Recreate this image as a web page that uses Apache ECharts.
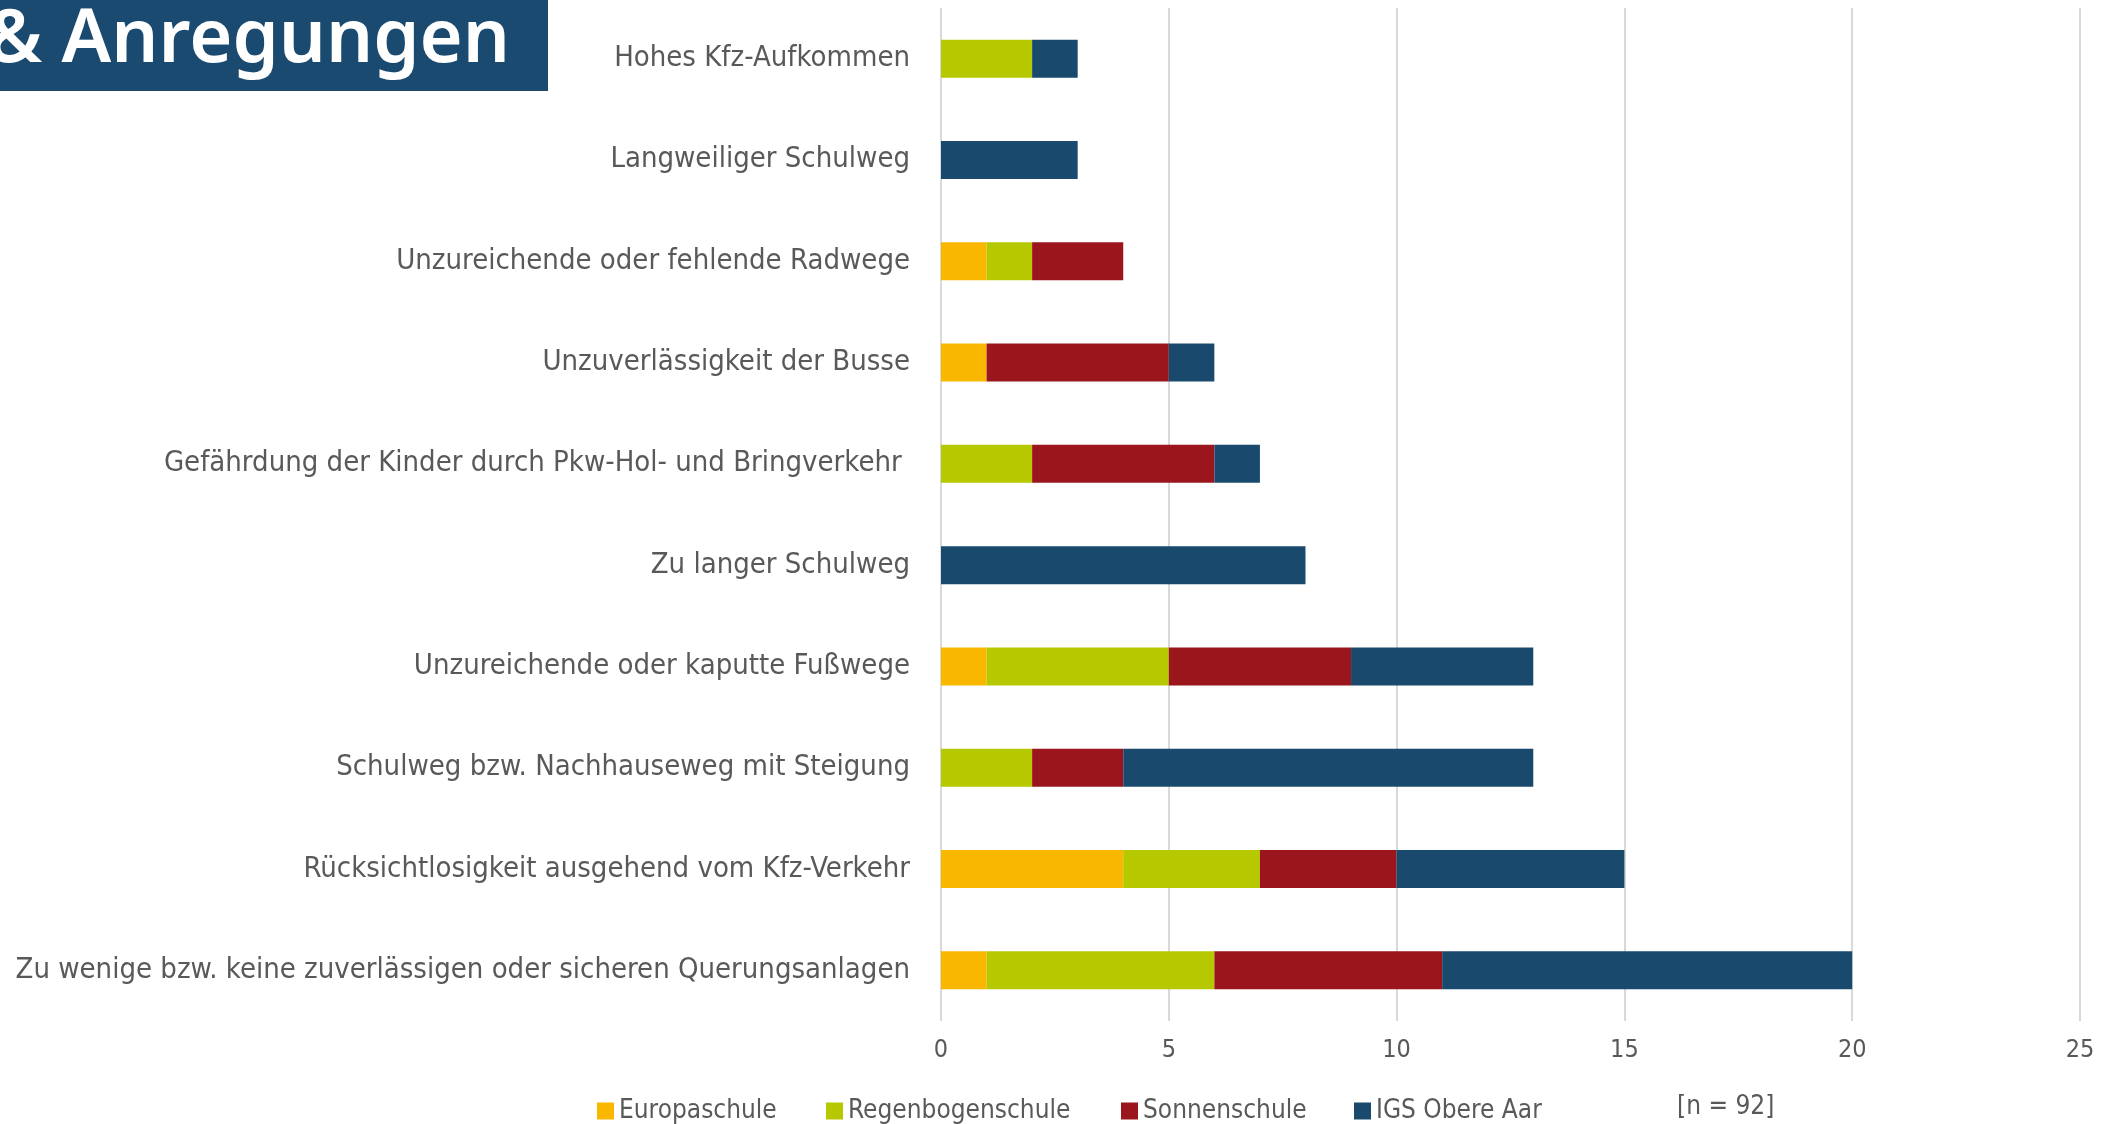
<!DOCTYPE html>
<html lang="de">
<head>
    <meta charset="UTF-8">
    <title>Anregungen</title>
    <script src="https://cdn.jsdelivr.net/npm/echarts@6/dist/echarts.min.js"></script>
    <style>
      html, body { margin: 0; padding: 0; background: #fff; }
    </style>
</head>
<body>
    <div id="main" style="width: 2121px;height:1124px;"></div>
</body>

<script>
  // Kategorien (von oben nach unten)
  const categories = [
    'Hohes Kfz-Aufkommen',
    'Langweiliger Schulweg',
    'Unzureichende oder fehlende Radwege',
    'Unzuverlässigkeit der Busse',
    'Gefährdung der Kinder durch Pkw-Hol- und Bringverkehr ',
    'Zu langer Schulweg',
    'Unzureichende oder kaputte Fußwege',
    'Schulweg bzw. Nachhauseweg mit Steigung',
    'Rücksichtlosigkeit ausgehend vom Kfz-Verkehr',
    'Zu wenige bzw. keine zuverlässigen oder sicheren Querungsanlagen'
  ]

  // Werte je Schule
  const europaschule     = [0, 0, 1, 1, 0, 0, 1, 0, 4, 1]
  const regenbogenschule = [2, 0, 1, 0, 2, 0, 4, 2, 3, 5]
  const sonnenschule     = [0, 0, 2, 4, 4, 0, 4, 2, 3, 5]
  const igsObereAar      = [1, 3, 0, 1, 1, 8, 4, 9, 5, 9]

  const schools = ['Europaschule', 'Regenbogenschule', 'Sonnenschule', 'IGS Obere Aar']
  const values = [europaschule, regenbogenschule, sonnenschule, igsObereAar]
  const colors = ['#fab700', '#b5c800', '#9b161c', '#194a6e']

  const xTicks = [0, 5, 10, 15, 20, 25]

  const font = '"Liberation Sans Narrow", "DejaVu Sans Condensed", sans-serif'
  const grey = '#595959'

  // Legendenpositionen (jede Schule eine eigene Legende)
  const legendLeft = [592, 821, 1116, 1349]

  const myChart = echarts.init(document.getElementById('main'))

  const option = {
    animation: false,
    grid: {
      left: 941,
      right: 41,
      top: 8,
      bottom: 103,
      outerBoundsMode: 'none'
    },
    xAxis: {
      type: 'value',
      min: xTicks[0],
      max: xTicks[xTicks.length - 1],
      interval: xTicks[1] - xTicks[0],
      axisLine: { show: false },
      axisTick: { show: false },
      splitLine: { lineStyle: { color: '#d9d9d9', width: 2 } },
      axisLabel: { color: grey, fontFamily: font, fontSize: 25, margin: 17 }
    },
    yAxis: {
      type: 'category',
      inverse: true,
      data: categories,
      axisLine: { show: false },
      axisTick: { show: false },
      axisLabel: { color: grey, fontFamily: font, fontSize: 29, margin: 31 }
    },
    legend: schools.map((s, i) => ({
      data: [s],
      left: legendLeft[i],
      top: 1092,
      icon: 'rect',
      itemWidth: 17,
      itemHeight: 17,
      itemGap: 6,
      textStyle: { color: grey, fontFamily: font, fontSize: 26, lineHeight: 28 }
    })),
    series: schools.map((s, i) => ({
      name: s,
      type: 'bar',
      stack: 'total',
      barWidth: 38,
      itemStyle: { color: colors[i] },
      data: values[i]
    })),
    graphic: [
      {
        type: 'rect',
        left: 0,
        top: 0,
        shape: { width: 548, height: 91 },
        style: { fill: '#1b4a70' }
      },
      {
        type: 'text',
        x: 510,
        y: 78,
        style: {
          text: '& Anregungen',
          fill: '#fff',
          font: '600 74px "Noto Sans", sans-serif',
          textAlign: 'right',
          textVerticalAlign: 'bottom'
        }
      },
      {
        type: 'text',
        x: 1677,
        y: 1107,
        style: {
          text: '[n = 92]',
          fill: grey,
          font: '26px ' + font,
          textAlign: 'left',
          textVerticalAlign: 'middle'
        }
      }
    ]
  }

  myChart.setOption(option)
</script>

</html>
